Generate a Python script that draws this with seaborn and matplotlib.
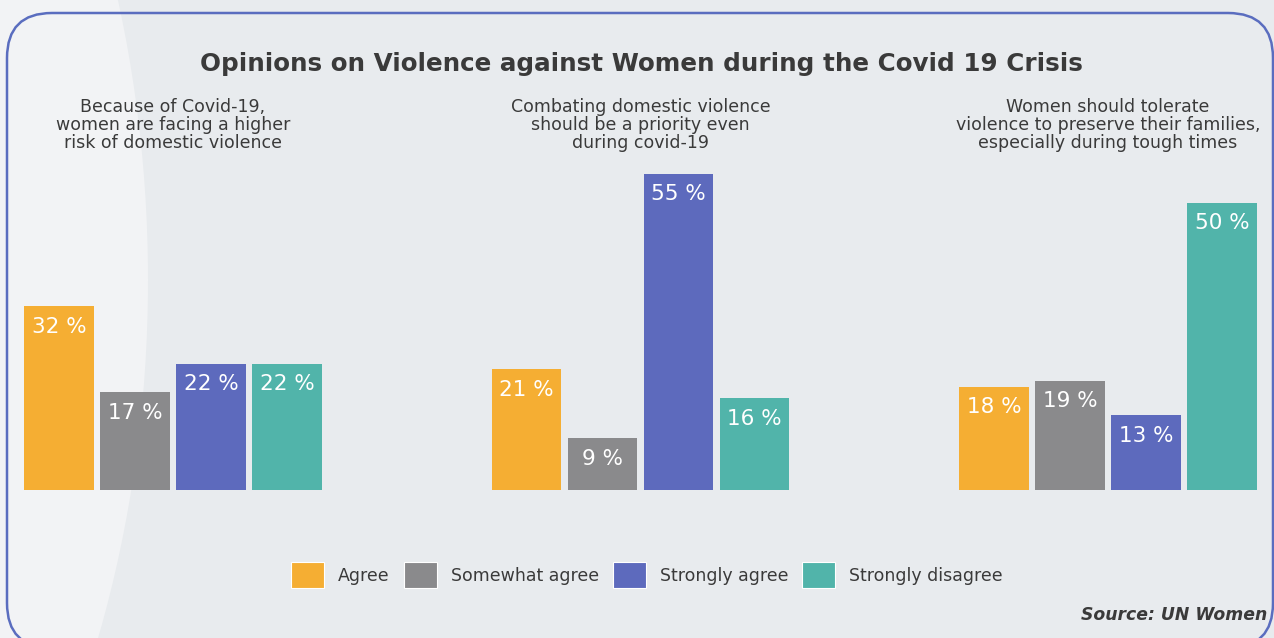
import pandas as pd
import seaborn as sns
import matplotlib.pyplot as plt
from matplotlib.patches import FancyBboxPatch, Ellipse
from matplotlib.transforms import IdentityTransform, blended_transform_factory

questions = ["Because of Covid-19,\nwomen are facing a higher\nrisk of domestic violence",
             "Combating domestic violence\nshould be a priority even\nduring covid-19",
             "Women should tolerate\nviolence to preserve their families,\nespecially during tough times"]
responses = ["Agree", "Somewhat agree", "Strongly agree", "Strongly disagree"]
agree = [32, 21, 18]
somewhat_agree = [17, 9, 19]
strongly_agree = [22, 55, 13]
strongly_disagree = [22, 16, 50]
colors = ["#f5ae33", "#8a8a8c", "#5d6abd", "#51b4aa"]

rows = []
for resp, vals in zip(responses, [agree, somewhat_agree, strongly_agree, strongly_disagree]):
    for q, v in zip(questions, vals):
        rows.append({"question": q, "response": resp, "value": v})
df = pd.DataFrame(rows)

sns.set_style("white")
plt.rcParams['font.family'] = ['DejaVu Sans']
text_col = "#3a3a3a"

fig = plt.figure(figsize=(12.74, 6.38), dpi=100, facecolor="#e8ebee")
# lighter curved band on the left
fig.patches.append(Ellipse((-500, 358), 1296, 1860, transform=IdentityTransform(),
                           fc="#f2f3f5", ec="none", zorder=-5))
fig.patches.append(FancyBboxPatch((7, -10), 1266, 635, boxstyle="round,pad=0,rounding_size=45",
                                  transform=IdentityTransform(), fc="none", ec="#5a6dbf",
                                  lw=1.8, zorder=-4))

ax = fig.add_axes([20 / 1274, 148 / 638, 1245 / 1274, 345 / 638])
ax.set_facecolor("none")
sns.barplot(data=df, x="question", y="value", hue="response", order=questions,
            hue_order=responses, palette=colors, width=0.65, gap=0.09,
            saturation=1, linewidth=0, ax=ax)
ax.set_xlim(-0.3273, 2.3358)
ax.set_ylim(0, 60)
ax.set_xticks([])
ax.set_yticks([])
ax.set_xlabel("")
ax.set_ylabel("")
sns.despine(ax=ax, left=True, bottom=True)

for cont in ax.containers:
    for p in cont:
        h = p.get_height()
        ax.annotate(f"{h:.0f} %", (p.get_x() + p.get_width() / 2, h),
                    xytext=(0, -14.8), textcoords="offset points",
                    ha="center", va="center", color="white", fontsize=15.5)

tr = blended_transform_factory(ax.transData, fig.transFigure)
for i, q in enumerate(questions):
    ax.text(i, 1 - 125 / 638, q, transform=tr, ha="center", va="center",
            fontsize=12.5, color=text_col, linespacing=0.98)

sns.move_legend(ax, "center", bbox_to_anchor=(647 / 1274, 1 - 575 / 638),
                bbox_transform=fig.transFigure, ncol=4, frameon=False, title=None,
                fontsize=12.5, handlelength=1.9, handleheight=1.95,
                handletextpad=0.8, columnspacing=0.8, labelcolor=text_col)
for h in ax.get_legend().legend_handles:
    h.set_edgecolor("white")
    h.set_linewidth(0.8)

fig.text(641 / 1274, 1 - 64 / 638, "Opinions on Violence against Women during the Covid 19 Crisis",
         ha="center", va="center", fontsize=17.7, weight="bold", color=text_col)
fig.text(1267 / 1274, 1 - 615 / 638, "Source: UN Women", ha="right", va="center",
         fontsize=12.4, weight="bold", style="italic", color=text_col)

fig.savefig("out.png", dpi=100, facecolor=fig.get_facecolor())
